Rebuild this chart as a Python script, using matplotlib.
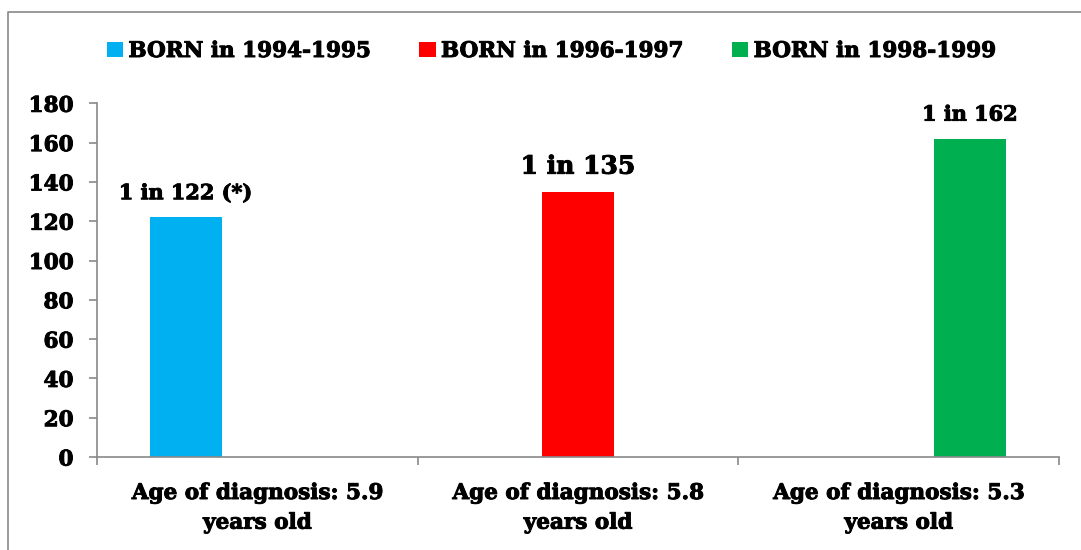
import matplotlib.pyplot as plt
from matplotlib.lines import Line2D
import matplotlib.patheffects as pe
import numpy as np

# Data
categories = ["Age of diagnosis: 5.9\nyears old",
              "Age of diagnosis: 5.8\nyears old",
              "Age of diagnosis: 5.3\nyears old"]
series_names = ["BORN in 1994-1995", "BORN in 1996-1997", "BORN in 1998-1999"]
series_values = [122, 135, 162]        # one bar per series, each in its own category
bar_labels = ["1 in 122 (*)", "1 in 135", "1 in 162"]
label_sizes = [15, 18, 15]
colors = ["#00B0F0", "#FF0000", "#00B050"]
yticks = [0, 20, 40, 60, 80, 100, 120, 140, 160, 180]

plt.rcParams['font.family'] = ['DejaVu Serif']
plt.rcParams['font.weight'] = 'bold'

# slightly heavier strokes, closer to the original bold face
heavy = [pe.withStroke(linewidth=0.7, foreground="black")]

fig = plt.figure(figsize=(10.81, 5.5), dpi=100)
ax = fig.add_axes([97/1081, 1 - 457/550, (1059 - 97)/1081, (457 - 103.3)/550])

x = np.arange(len(categories))
w = 0.223
handles = []
for i, (name, val) in enumerate(zip(series_names, series_values)):
    offset = (i - 1) * w
    vals = [val if j == i else 0 for j in range(len(categories))]
    b = ax.bar(x + offset, vals, width=w, color=colors[i], label=name)
    handles.append(b)
    ax.annotate(bar_labels[i], (i + offset, val), xytext=(0, 13),
                textcoords="offset points", ha="center", va="baseline",
                fontsize=label_sizes[i], fontweight="bold", path_effects=heavy)

ax.set_xlim(-0.5, 2.5)
ax.set_ylim(0, 180)
ax.set_yticks(yticks)
ax.tick_params(axis='y', labelsize=15.5, length=6, width=1.2, color="#898989", pad=11)
ax.set_xticks(x)
ax.set_xticklabels(categories, fontsize=15.5, linespacing=1.45)
ax.tick_params(axis='x', length=0, pad=18)
ax.set_xticks([-0.5, 0.5, 1.5, 2.5], minor=True)
ax.tick_params(axis='x', which='minor', length=6, width=1.2, color="#898989")
for t in ax.get_xticklabels() + ax.get_yticklabels():
    t.set_path_effects(heavy)

for s in ["top", "right"]:
    ax.spines[s].set_visible(False)
for s in ["left", "bottom"]:
    ax.spines[s].set_color("#898989")
    ax.spines[s].set_linewidth(1.2)

leg = fig.legend(handles=handles, loc="center", bbox_to_anchor=(551/1081, 1 - 51/550),
                 ncol=3, frameon=False, fontsize=15.5, handlelength=0.75, handleheight=0.75,
                 handletextpad=0.25, columnspacing=2.3)
for t in leg.get_texts():
    t.set_path_effects(heavy)

# outer chart border (top and left edges visible)
bx = 8 / 1081
by = 1 - 11.7 / 550
fig.add_artist(Line2D([bx, bx, 1.01], [0, by, by], transform=fig.transFigure,
                      color="#898989", lw=1.2))

fig.savefig("out.png", dpi=100)
